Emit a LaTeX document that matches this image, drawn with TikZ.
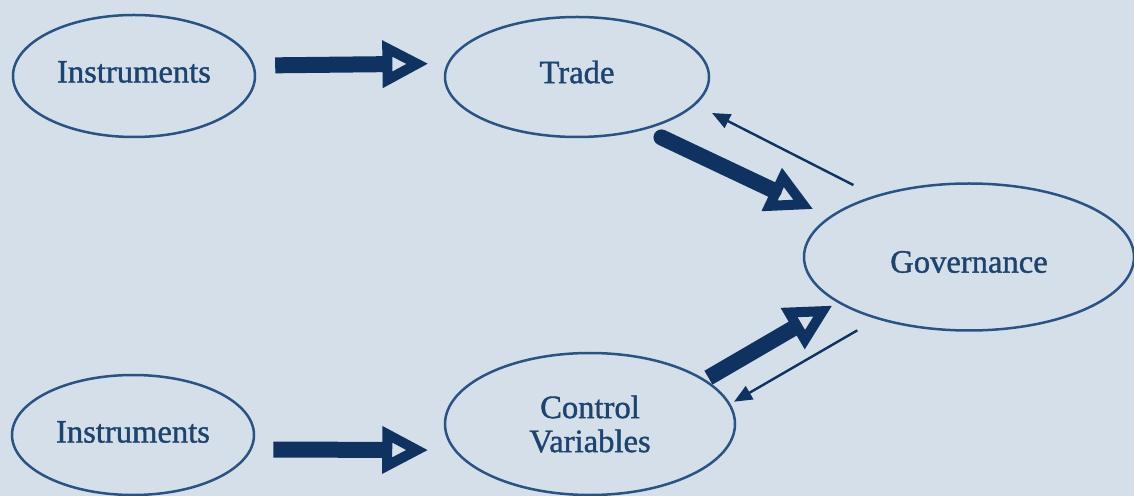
\documentclass[tikz,border=0pt]{standalone}
\usepackage{fontspec}
\setmainfont{Liberation Serif}
\newfontface\labelface{Liberation Serif}[FakeBold=1.2]
\usetikzlibrary{arrows.meta,shapes.geometric}
\definecolor{bgblue}{HTML}{D4DFEA}
\definecolor{navy}{HTML}{0F3260}
\definecolor{rimblue}{HTML}{2A5384}
\definecolor{inkblue}{HTML}{1E436F}
\newcommand{\lift}[2]{\raisebox{#1}[\height][\depth]{#2}}
\begin{document}
\begin{tikzpicture}[x=0.5pt,y=-0.5pt,
  oval/.style={ellipse,draw=rimblue,line width=1.25pt,inner sep=0pt,outer sep=0pt,
    text=inkblue,font=\labelface\fontsize{16.3}{17}\selectfont,align=center},
  bigarrow/.style={draw=navy,line width=8pt,
    -{Triangle[open,length=23pt,width=22.5pt,line width=5pt]}},
  smallarrow/.style={draw=navy,line width=1.2pt,
    -{Triangle[length=9pt,width=7.5pt]}}]
\fill[bgblue] (0,0) rectangle (1134,496);
\useasboundingbox (0,0) rectangle (1134,496);

% variables
\node[oval,minimum width=121pt,minimum height=61pt] (ins1) at (134,76) {\lift{2pt}{Instruments}};
\node[oval,minimum width=132pt,minimum height=60pt] (trade) at (577,77) {\lift{2.5pt}{Trade}};
\node[oval,minimum width=165pt,minimum height=73.5pt] (gov) at (969,257) {\lift{-2.5pt}{Governance}};
\node[oval,minimum width=121pt,minimum height=60pt] (ins2) at (133,435) {\lift{1.5pt}{Instruments}};
\node[oval,minimum width=145pt,minimum height=71pt] (ctrl) at (590,424) {Control\\Variables};

% causal links
\draw[bigarrow,shorten <=11pt,shorten >=10pt] (ins1.5.3) -- (trade.174.7);
\draw[bigarrow,shorten <=11.5pt,shorten >=13.5pt] (ins2.-7.3) -- (ctrl.-169.1);
\draw[bigarrow,line cap=round,shorten <=10pt,shorten >=9.4pt] (trade.-38.1) -- (gov.164.5);
\draw[bigarrow,shorten <=2.5pt,shorten >=3.5pt] (ctrl.21.7) -- (gov.-161.2);

% feedback links
\draw[smallarrow,shorten <=12.5pt,shorten >=9.75pt] (gov.147.1) -- (trade.-13);
\draw[smallarrow,shorten <=12pt,shorten >=2.7pt] (gov.-146.7) -- (ctrl.8.75);
\end{tikzpicture}
\end{document}
